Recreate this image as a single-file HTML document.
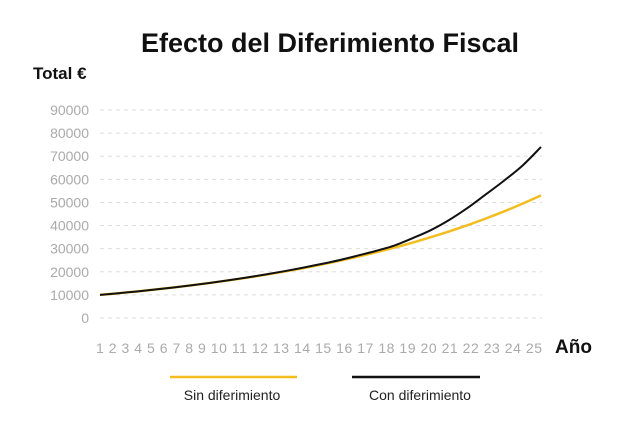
<!DOCTYPE html>
<html><head><meta charset="utf-8"><style>
body{margin:0;background:#fff}
svg{display:block;font-family:"Liberation Sans",sans-serif}
</style></head><body>
<svg id="chart" width="640" height="427" viewBox="0 0 640 427">
<text x="330" y="52" text-anchor="middle" font-size="27" font-weight="bold" fill="#111">Efecto del Diferimiento Fiscal</text>
<text x="33" y="79" font-size="17" font-weight="bold" fill="#111">Total €</text>
<text x="555" y="353" font-size="19" font-weight="bold" fill="#111">Año</text>
<g id="grid"></g><g id="yt"></g><g id="xt"></g><g id="series"></g>
<g>
<line x1="170" y1="377" x2="297" y2="377" stroke="#f2bd1d" stroke-width="2.5"/>
<text x="232" y="400" text-anchor="middle" font-size="14" fill="#222">Sin diferimiento</text>
<line x1="352" y1="377" x2="480" y2="377" stroke="#111" stroke-width="2.5"/>
<text x="420" y="400" text-anchor="middle" font-size="14" fill="#222">Con diferimiento</text>
</g>
</svg>
<script>
const years=[1,2,3,4,5,6,7,8,9,10,11,12,13,14,15,16,17,18,19,20,21,22,23,24,25];
const sinDiferimiento=[10000,10720,11490,12320,13200,14150,15170,16270,17440,18700,20040,21480,23030,24690,26470,28370,30420,32600,34950,37470,40170,43060,46160,49480,53050];
const conDiferimiento=[10000,10720,11490,12320,13220,14180,15220,16330,17530,18810,20200,21700,23300,25000,26950,29000,31300,34500,38000,42400,47600,53500,59500,66000,74000];
const yTicks=[0,10000,20000,30000,40000,50000,60000,70000,80000,90000];
const NS="http://www.w3.org/2000/svg";
const x0=100,x1=541,y0=318,y1=110;
function xs(v){return x0+(v-years[0])/(years[years.length-1]-years[0])*(x1-x0);}
function ys(v){return y0-v/90000*(y0-y1);}
function mk(t,a,p){const e=document.createElementNS(NS,t);for(const k in a)e.setAttribute(k,a[k]);p.appendChild(e);return e;}
function smooth(vals){
 const p=vals.map((v,i)=>[xs(years[i]),ys(v)]);
 let d='M'+p[0][0]+','+p[0][1];
 for(let i=0;i<p.length-1;i++){
  const a=p[i-1]||p[i],b=p[i],c=p[i+1],e=p[i+2]||c;
  d+='C'+(b[0]+(c[0]-a[0])/6)+','+(b[1]+(c[1]-a[1])/6)+' '+(c[0]-(e[0]-b[0])/6)+','+(c[1]-(e[1]-b[1])/6)+' '+c[0]+','+c[1];
 }
 return d;
}
const grid=document.getElementById('grid'),yt=document.getElementById('yt'),xt=document.getElementById('xt'),se=document.getElementById('series');
yTicks.forEach(v=>{
 const l=mk('line',{x1:100,x2:542,y1:ys(v),y2:ys(v),stroke:'#ddd','stroke-dasharray':'4 4'},grid);
 
 
 const t=mk('text',{x:89,y:ys(v)+5,'text-anchor':'end','font-size':14,fill:'#aaa'},yt);
 
 
 t.textContent=v;
});
const xl=mk('text',{x:96,y:353,'font-size':14,fill:'#aaa',textLength:446,lengthAdjust:'spacing'},xt);


xl.textContent=years.join(' ');
const sinLine=mk('path',{d:smooth(sinDiferimiento),fill:'none',stroke:'#f2bd1d','stroke-width':2.5},se);


const conLine=mk('path',{d:smooth(conDiferimiento),fill:'none',stroke:'#111','stroke-width':2},se);


</script>
</body></html>
